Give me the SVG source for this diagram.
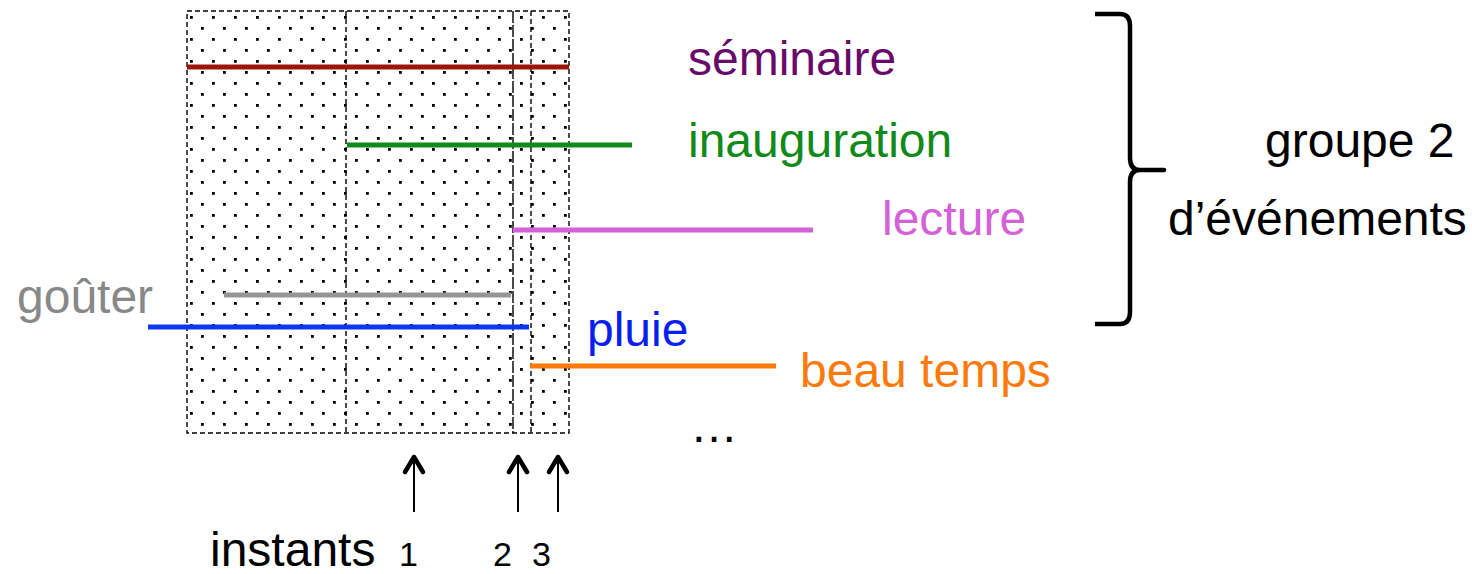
<svg xmlns="http://www.w3.org/2000/svg" width="1472" height="574" viewBox="0 0 1472 574">
<defs>
<pattern id="dots" x="187" y="11" width="22" height="22" patternUnits="userSpaceOnUse">
<rect x="3" y="5" width="2.8" height="2.8" fill="#000"/>
<rect x="14" y="16" width="2.8" height="2.8" fill="#000"/>
</pattern>
<style>
.lbl{font-family:"Liberation Sans",Arial,sans-serif;font-size:48px}
.num{font-family:"Liberation Sans",Arial,sans-serif;font-size:34px;fill:#000}
.ev{stroke-width:5;fill:none}
.dash{stroke:#000;stroke-width:1.4;stroke-dasharray:5,3;fill:none}
.arr{stroke:#000;stroke-width:2;fill:none}
.head{stroke:#000;stroke-width:4.5;fill:none;stroke-linecap:round;stroke-linejoin:round}
</style>
</defs>
<rect width="1472" height="574" fill="#fff"/>
<g id="zone">
<rect x="187" y="11" width="382" height="422" fill="url(#dots)"/>
<rect x="187" y="11" width="382" height="422" class="dash"/>
<line x1="346" y1="11" x2="346" y2="433" class="dash"/>
<line x1="513" y1="11" x2="513" y2="433" stroke="#000" stroke-width="1.4" stroke-dasharray="12,2"/>
<line x1="531" y1="11" x2="531" y2="433" class="dash"/>
</g>
<g id="connectors">
<line x1="187" y1="67" x2="569" y2="67" class="ev" stroke="#9b1608"/>
<line x1="347" y1="145" x2="632" y2="145" class="ev" stroke="#128a1b"/>
<line x1="513" y1="230" x2="813" y2="230" class="ev" stroke="#d461d8"/>
<line x1="224" y1="295" x2="511" y2="295" class="ev" stroke="#959595"/>
<line x1="148" y1="327" x2="529" y2="327" class="ev" stroke="#0a38f0"/>
<line x1="530" y1="366" x2="776" y2="366" class="ev" stroke="#fc7a0c"/>
<g id="arrow1"><line x1="414" y1="512" x2="414" y2="456" class="arr"/><path d="M405 472 L414 457 L423 472" class="head"/></g>
<g id="arrow2"><line x1="518" y1="512" x2="518" y2="456" class="arr"/><path d="M509 472 L518 457 L527 472" class="head"/></g>
<g id="arrow3"><line x1="558" y1="512" x2="558" y2="456" class="arr"/><path d="M549 472 L558 457 L567 472" class="head"/></g>
</g>
<g id="brace"><path d="M1095 14 L1120 14 Q1130 14 1130 26 L1130 158 Q1130 170 1140 170 L1164 170 L1140 170 Q1130 170 1130 182 L1130 312 Q1130 324 1120 324 L1095 324" fill="none" stroke="#000" stroke-width="4.5" stroke-linejoin="round"/></g>
<g id="seminaire"><text x="688" y="75" class="lbl" fill="#690a6b">séminaire</text></g>
<g id="inauguration"><text x="688" y="157" class="lbl" fill="#128a1b">inauguration</text></g>
<g id="lecture"><text x="882" y="235" class="lbl" fill="#d461d8">lecture</text></g>
<g id="gouter"><text x="17" y="313" class="lbl" fill="#888">goûter</text></g>
<g id="pluie"><text x="587" y="346" class="lbl" fill="#0a1ef0">pluie</text></g>
<g id="beautemps"><text x="800" y="387" class="lbl" fill="#fc7a0c">beau temps</text></g>
<g id="etc"><text x="690" y="442" class="lbl" fill="#000">…</text></g>
<g id="groupe"><text x="1265" y="157" class="lbl" fill="#000">groupe 2</text><text x="1168" y="235" class="lbl" fill="#000">d’événements</text></g>
<g id="instants"><text x="210" y="566" class="lbl" fill="#000">instants</text>
<text x="399" y="566" class="num">1</text>
<text x="493" y="566" class="num">2</text>
<text x="532" y="566" class="num">3</text></g>
</svg>
